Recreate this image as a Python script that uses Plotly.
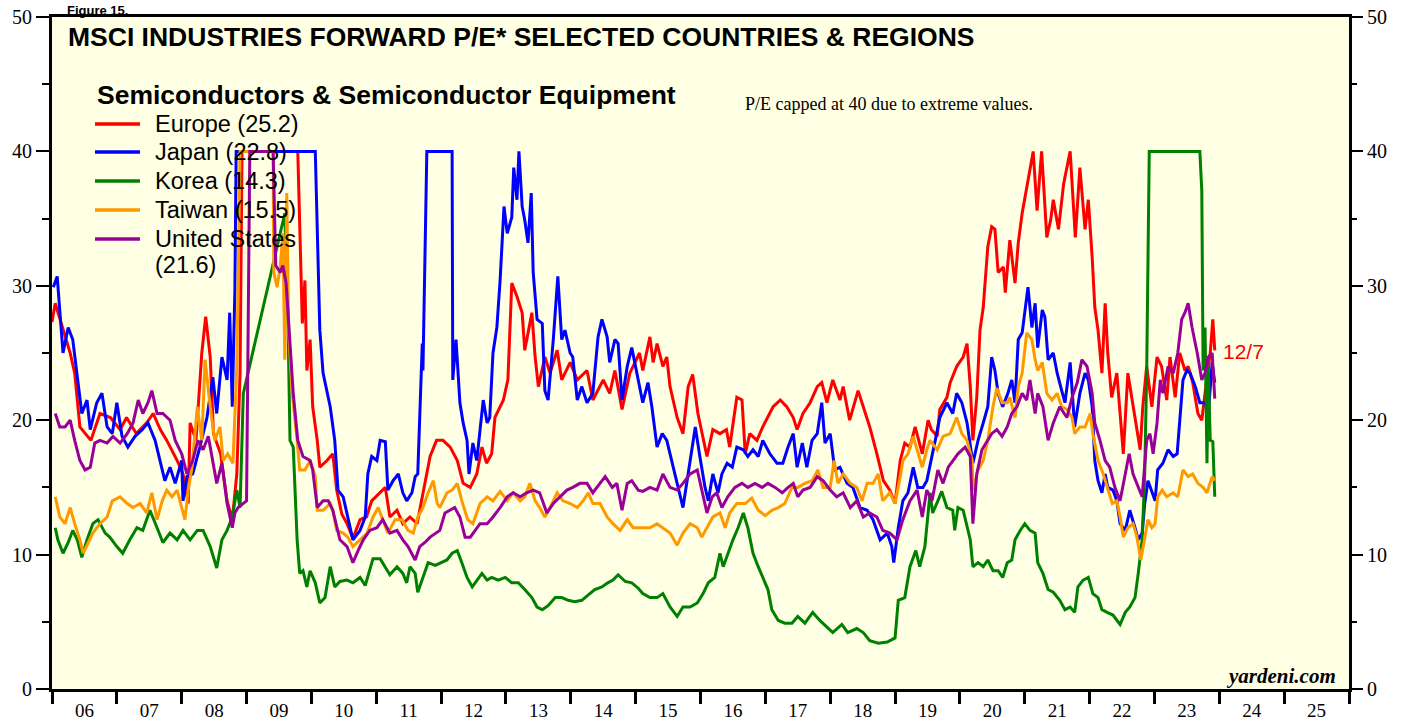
import plotly.graph_objects as go

# ---------------- data (decimal year, forward P/E; capped at 40) ----------------
year_labels = ["06", "07", "08", "09", "10", "11", "12", "13", "14", "15",
               "16", "17", "18", "19", "20", "21", "22", "23", "24", "25"]

europe = [(2006.0,27.3),(2006.05,28.7),(2006.28,25),(2006.35,23.5),(2006.43,19.5),(2006.6,18.5),(2006.74,20.5),(2006.9,20.2),
(2007.05,19.3),(2007.15,20.2),(2007.3,19),(2007.46,19.8),(2007.56,20.5),(2007.67,19.3),(2007.77,18.5),(2007.93,17),
(2008.02,16),(2008.1,13.8),(2008.13,19.8),(2008.22,18.5),(2008.31,25),(2008.37,27.7),(2008.44,24.7),(2008.49,19),(2008.6,17.5),
(2008.7,14),(2008.78,12.6),(2008.85,16),(2008.9,23.5),(2008.93,40),(2009.79,40),(2009.86,27.2),(2009.9,30.4),(2009.93,23.7),
(2009.98,26),(2010.02,21),(2010.09,18.5),(2010.13,16.5),(2010.24,17),(2010.33,17.5),(2010.39,14.8),(2010.47,13),(2010.55,12.3),
(2010.64,11.2),(2010.75,12.6),(2010.85,12.8),(2010.93,14),(2011.06,14.6),(2011.14,15),(2011.21,12.8),(2011.32,13.3),(2011.41,12.3),
(2011.52,12.8),(2011.63,12.3),(2011.72,14.6),(2011.83,17.3),(2011.93,18.5),(2012.03,18.5),(2012.14,18),(2012.25,17),(2012.34,15.3),
(2012.45,15),(2012.55,16),(2012.63,18),(2012.7,16.8),(2012.78,17.5),(2012.83,20.2),(2012.96,21.5),(2013.03,23),(2013.09,30.2),
(2013.17,29.2),(2013.25,28),(2013.29,25.2),(2013.4,28),(2013.45,24.7),(2013.5,22.5),(2013.6,24.7),(2013.68,23.5),(2013.79,25.2),
(2013.86,23),(2013.99,24.3),(2014.1,23),(2014.25,23.7),(2014.34,21.5),(2014.5,23),(2014.6,22),(2014.68,23.7),(2014.79,20.8),
(2014.91,23.5),(2015.06,25),(2015.11,23.7),(2015.22,26.2),(2015.27,24.3),(2015.33,25.7),(2015.42,24),(2015.48,24.7),(2015.53,22.5),
(2015.64,20.2),(2015.73,19),(2015.81,22.5),(2015.88,23.4),(2015.96,20.5),(2016.1,17.3),(2016.19,19.3),(2016.3,19),(2016.4,19.3),
(2016.45,18),(2016.56,21.7),(2016.64,21.5),(2016.69,17.5),(2016.76,19),(2016.87,18.5),(2016.96,19.5),(2017.12,21),(2017.23,21.5),
(2017.33,21),(2017.43,20.2),(2017.49,19.3),(2017.58,20.5),(2017.69,21.3),(2017.8,22.5),(2017.87,22.8),(2017.95,21.3),(2018.04,23),
(2018.15,21.5),(2018.2,22.5),(2018.3,20),(2018.43,22.2),(2018.51,21),(2018.61,19.5),(2018.72,17.5),(2018.82,15.5),(2018.92,14.8),
(2019.0,13.8),(2019.08,17),(2019.15,18.3),(2019.23,18),(2019.31,19.5),(2019.42,17.5),(2019.51,20),(2019.56,19.3),(2019.65,18.8),
(2019.69,20.8),(2019.8,21.7),(2019.85,22.8),(2019.95,24),(2020.05,24.7),(2020.11,25.7),(2020.16,22.5),(2020.2,18.5),(2020.26,21.7),
(2020.31,26.7),(2020.36,28.4),(2020.43,32.9),(2020.49,34.4),(2020.54,34.2),(2020.59,31),(2020.67,31.4),(2020.7,29.5),(2020.77,33.4),
(2020.85,30.2),(2020.9,33.2),(2020.96,35.4),(2021.04,37.6),(2021.08,38.8),(2021.13,40),(2021.19,35.6),(2021.26,40),(2021.34,33.6),
(2021.4,34.9),(2021.44,36.4),(2021.52,34.2),(2021.6,37.6),(2021.7,40),(2021.78,33.6),(2021.85,38.8),(2021.93,34.2),(2021.98,36.4),
(2022.04,32.1),(2022.08,28.4),(2022.13,26.7),(2022.19,23.5),(2022.24,28.7),(2022.28,25),(2022.34,21.7),(2022.42,23.5),(2022.47,20.5),
(2022.52,17.5),(2022.59,23.5),(2022.67,21),(2022.73,19),(2022.78,17.8),(2022.82,21),(2022.88,24),(2022.96,21),(2023.04,24.7),
(2023.11,24),(2023.19,21.5),(2023.24,24.7),(2023.32,21.7),(2023.39,25),(2023.47,23.7),(2023.52,24),(2023.59,22.8),(2023.67,20.5),
(2023.73,20),(2023.78,22),(2023.86,25),(2023.9,27.5),(2023.93,25.2)]

japan = [(2006.02,29.9),(2006.08,30.7),(2006.17,25),(2006.25,26.9),(2006.32,26),(2006.4,23),(2006.46,20.5),(2006.54,21.5),(2006.59,19.3),
(2006.69,21.3),(2006.77,22),(2006.85,19.5),(2006.93,19),(2007.0,21.3),(2007.08,18.8),(2007.17,18),(2007.28,18.8),(2007.39,19.3),
(2007.48,19.8),(2007.59,18.5),(2007.67,17),(2007.74,15.5),(2007.82,16.5),(2007.9,15.3),(2008.0,17),(2008.02,14),(2008.08,15.8),
(2008.17,16),(2008.28,18),(2008.39,20.2),(2008.48,23.2),(2008.54,20.5),(2008.62,24.7),(2008.7,23),(2008.74,28),(2008.78,21),
(2008.82,29.7),(2008.84,40),(2010.06,40),(2010.09,33.4),(2010.13,26.7),(2010.18,23.5),(2010.24,22),(2010.29,21),(2010.36,18.5),
(2010.41,14.8),(2010.49,14.3),(2010.56,12.8),(2010.64,11.1),(2010.75,11.8),(2010.83,12.8),(2010.87,16),(2010.93,17.3),(2011.01,17),
(2011.06,18.5),(2011.14,18.4),(2011.18,14.8),(2011.26,15.5),(2011.34,16),(2011.41,14.6),(2011.47,14),(2011.55,14.6),(2011.6,15.8),
(2011.64,16),(2011.71,25.7),(2011.72,23.7),(2011.78,40),(2012.17,40),(2012.18,23),(2012.23,26),(2012.29,21.3),(2012.34,19.8),
(2012.4,18.5),(2012.43,16),(2012.49,18.3),(2012.55,17),(2012.6,19.5),(2012.65,21.5),(2012.71,19.8),(2012.75,20.2),(2012.8,25),
(2012.86,26.9),(2012.91,30.4),(2012.97,35.9),(2013.02,33.9),(2013.09,35.1),(2013.12,38.8),(2013.17,36.4),(2013.2,40),(2013.25,35.9),
(2013.29,34.9),(2013.34,33.2),(2013.39,36.9),(2013.42,31),(2013.48,27.5),(2013.56,27.2),(2013.6,22.2),(2013.65,21.5),(2013.73,26),
(2013.8,30.7),(2013.86,26),(2013.91,26.7),(2013.99,25),(2014.03,24.7),(2014.1,21.5),(2014.17,22.5),(2014.25,21.3),(2014.34,22),
(2014.42,26.2),(2014.48,27.5),(2014.56,26.2),(2014.6,24.3),(2014.68,26),(2014.73,25.7),(2014.79,21.5),(2014.87,24),(2014.94,25.4),
(2015.04,23),(2015.11,21.3),(2015.19,22.8),(2015.25,21),(2015.33,18),(2015.41,19),(2015.48,18.5),(2015.56,17),(2015.64,15.3),
(2015.73,13.5),(2015.79,15.5),(2015.87,17.8),(2015.92,19.5),(2015.99,17.3),(2016.07,15),(2016.12,14),(2016.19,16),(2016.27,14.6),
(2016.33,16),(2016.41,16.8),(2016.49,16.5),(2016.56,18),(2016.66,17.8),(2016.73,17.3),(2016.81,17.8),(2016.89,17.3),(2016.96,18.5),
(2017.07,17.5),(2017.18,16.8),(2017.27,16.8),(2017.35,18),(2017.43,19),(2017.49,16.5),(2017.57,18.3),(2017.64,16.5),(2017.72,18.5),
(2017.8,19),(2017.87,21.3),(2017.92,18.3),(2018.0,19),(2018.07,16.3),(2018.15,16.5),(2018.26,15.3),(2018.35,15),(2018.46,13.5),
(2018.57,13.3),(2018.66,12.6),(2018.77,11.1),(2018.88,11.6),(2018.95,10.6),(2018.98,9.4),(2019.05,12),(2019.12,14),(2019.2,14.6),
(2019.28,16.5),(2019.35,15),(2019.43,15),(2019.49,15.5),(2019.55,17),(2019.62,18.5),(2019.69,20.2),(2019.8,21.3),(2019.89,20.5),
(2019.95,22),(2020.03,21.3),(2020.11,19.8),(2020.2,16.8),(2020.28,18.5),(2020.36,19.8),(2020.43,21),(2020.49,24.7),(2020.54,23.7),
(2020.59,22),(2020.66,21),(2020.74,22),(2020.8,23),(2020.85,21.3),(2020.9,26),(2020.96,26.5),(2021.0,28),(2021.05,29.9),
(2021.11,26.9),(2021.16,28.7),(2021.2,25.4),(2021.27,28.2),(2021.31,27.7),(2021.36,24.5),(2021.44,25),(2021.5,23.5),(2021.57,22.2),
(2021.62,21.3),(2021.7,24.3),(2021.77,19.5),(2021.85,22),(2021.93,23.5),(2021.98,23),(2022.04,21),(2022.08,17),(2022.13,15.5),
(2022.19,14.6),(2022.24,16),(2022.28,15),(2022.36,14.8),(2022.42,14),(2022.47,12.3),(2022.55,11.8),(2022.62,13.3),(2022.7,12),
(2022.75,11.1),(2022.81,11.6),(2022.85,13.8),(2022.9,15.5),(2022.96,14.6),(2023.01,14),(2023.05,16.3),(2023.13,16.8),(2023.21,17.8),
(2023.29,17.3),(2023.35,17.5),(2023.39,20.2),(2023.44,23),(2023.5,23.7),(2023.55,23.5),(2023.63,22.5),(2023.7,21.3),(2023.78,21.3),
(2023.83,20.5),(2023.89,24.3),(2023.93,22.8)]

korea = [(2006.05,12),(2006.09,11.1),(2006.17,10.1),(2006.25,10.9),(2006.32,11.8),(2006.39,11.1),(2006.46,9.8),(2006.54,11.1),
(2006.63,12.3),(2006.71,12.6),(2006.82,11.6),(2006.89,11.3),(2007.0,10.6),(2007.09,10.1),(2007.2,11.1),(2007.31,12),(2007.4,11.8),
(2007.51,13.3),(2007.62,12),(2007.71,10.9),(2007.82,11.6),(2007.93,11.1),(2008.02,11.8),(2008.13,11.1),(2008.24,11.8),(2008.33,11.8),
(2008.44,10.6),(2008.54,9.0),(2008.62,11.1),(2008.7,11.8),(2008.78,12.8),(2008.85,14.8),(2008.9,13.5),(2008.95,22),(2009.59,35.4),
(2009.64,27),(2009.67,18.5),(2009.72,18),(2009.78,11.1),(2009.82,8.6),(2009.87,8.8),(2009.93,7.6),(2009.98,8.8),(2010.06,7.9),
(2010.13,6.4),(2010.21,6.8),(2010.29,9.1),(2010.36,7.6),(2010.44,8.0),(2010.55,8.1),(2010.64,7.9),(2010.75,8.3),(2010.83,7.7),
(2010.9,8.8),(2010.95,9.7),(2011.06,9.7),(2011.17,8.8),(2011.21,8.5),(2011.32,9.1),(2011.41,8.6),(2011.47,7.9),(2011.52,9.1),
(2011.6,8.6),(2011.64,7.2),(2011.72,8.3),(2011.8,9.4),(2011.91,9.2),(2012.01,9.4),(2012.09,9.6),(2012.17,10.1),(2012.25,10.3),
(2012.32,9.4),(2012.4,8.3),(2012.48,7.6),(2012.55,8.1),(2012.63,8.6),(2012.71,8.1),(2012.78,8.3),(2012.88,8.1),(2012.99,8.3),
(2013.09,7.9),(2013.19,7.9),(2013.29,7.4),(2013.4,6.8),(2013.48,6.1),(2013.56,5.9),(2013.65,6.2),(2013.76,6.8),(2013.86,6.8),
(2013.96,6.6),(2014.06,6.5),(2014.17,6.6),(2014.27,7.0),(2014.37,7.4),(2014.48,7.6),(2014.57,7.9),(2014.65,8.1),(2014.73,8.5),
(2014.84,8.0),(2014.94,7.9),(2015.04,7.5),(2015.11,7.1),(2015.22,6.8),(2015.33,6.8),(2015.42,7.1),(2015.53,6.1),(2015.64,5.4),
(2015.73,6.1),(2015.84,6.1),(2015.95,6.4),(2016.04,7.1),(2016.12,7.9),(2016.22,8.3),(2016.3,10.1),(2016.35,9.1),(2016.42,10.1),
(2016.5,11.1),(2016.58,12),(2016.66,13.1),(2016.73,12),(2016.81,10.1),(2016.89,9.1),(2016.96,8.3),(2017.04,7.4),(2017.1,5.9),
(2017.2,5.1),(2017.3,4.9),(2017.41,4.9),(2017.5,5.4),(2017.61,4.9),(2017.73,5.7),(2017.84,5.1),(2017.95,4.6),(2018.04,4.2),
(2018.18,4.8),(2018.27,4.2),(2018.41,4.5),(2018.51,4.2),(2018.61,3.6),(2018.74,3.4),(2018.88,3.5),(2019.0,3.8),(2019.05,6.6),
(2019.15,6.8),(2019.23,9.1),(2019.32,10.3),(2019.38,9.1),(2019.46,10.6),(2019.54,14.6),(2019.58,13.1),(2019.66,14),(2019.72,14.7),
(2019.8,13.5),(2019.89,13.3),(2019.92,11.8),(2019.97,13.5),(2020.05,13.3),(2020.11,12),(2020.16,11.1),(2020.2,9.1),(2020.28,9.4),
(2020.36,9.1),(2020.43,9.6),(2020.51,8.8),(2020.59,8.8),(2020.66,8.3),(2020.73,9.4),(2020.8,9.6),(2020.85,11.1),(2020.93,11.8),
(2021.0,12.3),(2021.08,11.8),(2021.16,11.6),(2021.2,9.4),(2021.28,8.6),(2021.36,7.4),(2021.44,7.2),(2021.54,6.6),(2021.62,5.9),
(2021.7,6.1),(2021.77,5.7),(2021.82,7.6),(2021.9,8.1),(2021.98,8.3),(2022.05,7.1),(2022.13,6.8),(2022.19,5.9),(2022.27,5.7),
(2022.36,5.5),(2022.47,4.8),(2022.55,5.7),(2022.62,6.1),(2022.7,6.8),(2022.75,8.6),(2022.81,11.1),(2022.85,16),(2022.88,23.5),
(2022.92,40),(2023.7,40),(2023.73,37.1),(2023.75,23.7),(2023.78,26.9),(2023.81,16.8),(2023.83,24),(2023.86,18.5),(2023.9,18.4),
(2023.93,14.3)]

taiwan = [(2006.05,14.3),(2006.12,12.8),(2006.2,12.3),(2006.28,13.5),(2006.35,12.3),(2006.43,11.1),(2006.48,10.1),(2006.56,10.9),
(2006.63,11.6),(2006.74,12.3),(2006.85,12.8),(2006.93,14),(2007.05,14.3),(2007.16,13.8),(2007.25,13.5),(2007.36,13.8),(2007.46,13.1),
(2007.54,14.6),(2007.62,12.6),(2007.7,14),(2007.77,14.8),(2007.85,14.3),(2007.93,14.8),(2008.0,13.5),(2008.05,12.6),(2008.1,14.8),
(2008.16,16.5),(2008.24,21),(2008.31,18.5),(2008.36,24.5),(2008.44,21),(2008.51,18.5),(2008.59,19.5),(2008.64,17),(2008.71,17.5),
(2008.79,16.8),(2008.85,24),(2008.9,40),(2009.41,40),(2009.42,31),(2009.47,29.9),(2009.52,31.4),(2009.56,33.9),(2009.59,24.5),
(2009.62,36.9),(2009.65,26.7),(2009.7,22.2),(2009.78,18.5),(2009.82,16.3),(2009.9,16.3),(2009.98,17),(2010.06,15.8),(2010.09,13.3),
(2010.18,13.3),(2010.29,13.8),(2010.33,13.3),(2010.39,11.8),(2010.49,11.6),(2010.56,11.3),(2010.64,10.6),(2010.75,11.1),(2010.86,11.6),
(2010.95,12.8),(2011.03,13.5),(2011.1,12.6),(2011.18,11.6),(2011.29,12.6),(2011.4,12.6),(2011.49,11.8),(2011.57,11.6),(2011.64,12.8),
(2011.72,13.5),(2011.8,14.6),(2011.88,15.5),(2011.94,13.8),(2011.98,13.5),(2012.09,14.6),(2012.17,14.8),(2012.25,15.3),(2012.32,14),
(2012.41,12.6),(2012.49,12.3),(2012.6,13.8),(2012.71,14.3),(2012.8,14),(2012.91,14.7),(2013.02,14),(2013.11,14.6),(2013.22,14),
(2013.29,14.3),(2013.37,15.3),(2013.45,14),(2013.52,13.5),(2013.6,12.8),(2013.68,13.5),(2013.79,14.6),(2013.88,14),(2013.99,13.8),
(2014.1,13.5),(2014.19,14),(2014.27,14.6),(2014.34,13.8),(2014.45,13.8),(2014.56,12.8),(2014.65,12.3),(2014.76,11.8),(2014.87,12.6),
(2014.96,12),(2015.07,12),(2015.22,12),(2015.33,12.3),(2015.42,12),(2015.53,11.6),(2015.64,10.7),(2015.73,11.6),(2015.84,12.3),
(2015.95,12),(2016.02,11.3),(2016.1,12),(2016.19,12.8),(2016.3,13.1),(2016.38,12),(2016.45,13.1),(2016.56,13.8),(2016.69,13.8),
(2016.79,14.2),(2016.89,13.3),(2017.0,12.9),(2017.1,13.3),(2017.2,13.5),(2017.3,13.8),(2017.41,15),(2017.5,15),(2017.61,15.3),
(2017.72,15.5),(2017.81,16.3),(2017.89,15),(2018.0,15),(2018.06,17),(2018.12,15.3),(2018.2,16),(2018.31,15.3),(2018.41,15),
(2018.49,14),(2018.57,15.3),(2018.66,15.3),(2018.74,16),(2018.81,14),(2018.92,14.6),(2019.0,13.8),(2019.08,15.8),(2019.12,17),
(2019.2,17.5),(2019.28,18.8),(2019.34,17.8),(2019.42,16.5),(2019.49,17.8),(2019.54,18.5),(2019.65,17.8),(2019.74,18.8),(2019.85,19),
(2019.95,20.2),(2020.03,19),(2020.11,18.5),(2020.19,17),(2020.2,14.8),(2020.28,16.3),(2020.36,17),(2020.43,18.5),(2020.51,21),
(2020.57,22.4),(2020.65,21.3),(2020.73,21.3),(2020.77,21.7),(2020.85,20.2),(2020.9,22.5),(2020.96,23.5),(2021.0,25),(2021.03,26.5),
(2021.11,26),(2021.16,24.5),(2021.2,23.7),(2021.27,24.3),(2021.34,22),(2021.42,21.5),(2021.5,22),(2021.57,21),(2021.65,20.8),
(2021.73,20.2),(2021.77,19),(2021.85,19.5),(2021.93,19.5),(2022.01,20.5),(2022.05,19),(2022.13,17),(2022.21,16),(2022.28,14.8),
(2022.35,13.8),(2022.42,14),(2022.47,12.8),(2022.52,11.3),(2022.59,12),(2022.67,12.3),(2022.73,11.3),(2022.79,9.6),(2022.85,11.1),
(2022.9,12.6),(2022.96,12),(2023.01,12.3),(2023.05,14.3),(2023.12,14.8),(2023.19,14.3),(2023.29,14.6),(2023.36,14.3),(2023.44,16.3),
(2023.52,15.8),(2023.59,16),(2023.67,15.3),(2023.75,15),(2023.81,14.6),(2023.89,15.8),(2023.93,15.5)]

united_states = [(2006.05,20.5),(2006.12,19.5),(2006.2,19.5),(2006.28,20),(2006.35,18.5),(2006.43,17),(2006.51,16.3),(2006.59,16.5),
(2006.66,18.3),(2006.74,18.5),(2006.85,18.3),(2006.94,18.8),(2007.05,18.3),(2007.16,19),(2007.25,19.8),(2007.33,21.5),(2007.4,20.5),
(2007.48,21.3),(2007.54,22.2),(2007.62,20.5),(2007.71,20.5),(2007.82,20),(2007.9,18.5),(2008.0,17.5),(2008.08,16),(2008.17,17),
(2008.25,18.5),(2008.33,17.8),(2008.41,18.8),(2008.48,16.8),(2008.54,15.3),(2008.62,16.8),(2008.7,13.8),(2008.78,12),(2008.82,13.1),
(2008.87,13.5),(2009.0,14),(2009.05,40),(2009.41,40),(2009.45,31.5),(2009.52,31),(2009.56,31.5),(2009.61,30.2),(2009.72,22),
(2009.79,18.5),(2009.87,17.3),(2009.98,17),(2010.02,16.3),(2010.09,13.5),(2010.18,14),(2010.26,14),(2010.33,13.3),(2010.44,11.1),
(2010.55,10.6),(2010.64,9.4),(2010.72,10.3),(2010.8,11.1),(2010.9,11.8),(2011.01,12),(2011.1,12.6),(2011.21,11.6),(2011.32,11.8),
(2011.41,11.1),(2011.49,10.6),(2011.6,9.6),(2011.67,10.6),(2011.75,10.9),(2011.83,11.3),(2011.91,11.6),(2011.98,11.8),(2012.06,13.1),
(2012.14,13.3),(2012.21,13.5),(2012.29,12.8),(2012.37,11.3),(2012.45,11.3),(2012.52,11.8),(2012.6,12.3),(2012.71,12.3),(2012.8,12.8),
(2012.91,13.5),(2013.02,14.3),(2013.11,14.6),(2013.22,14.3),(2013.32,14.6),(2013.42,14.8),(2013.52,14.6),(2013.63,13.1),(2013.73,13.8),
(2013.83,14.3),(2013.94,14.8),(2014.03,15),(2014.14,15.3),(2014.25,15.3),(2014.34,14.6),(2014.45,15.3),(2014.53,15.8),(2014.64,15),
(2014.71,15.3),(2014.79,13.3),(2014.87,15.3),(2014.94,15.5),(2015.04,14.8),(2015.11,14.7),(2015.22,15),(2015.33,14.8),(2015.42,16),
(2015.53,15),(2015.64,14.8),(2015.73,15.3),(2015.84,16),(2015.95,16.3),(2016.02,14.8),(2016.1,13.1),(2016.18,14.3),(2016.25,14.6),
(2016.33,13.5),(2016.42,14.3),(2016.53,15),(2016.64,15.3),(2016.73,15),(2016.84,15.3),(2016.95,15),(2017.04,15.3),(2017.15,15),
(2017.26,14.6),(2017.35,15),(2017.43,15.3),(2017.5,14.3),(2017.58,14.8),(2017.69,15),(2017.8,15.8),(2017.89,15.5),(2018.0,14.8),
(2018.1,14.3),(2018.2,14.6),(2018.31,13.5),(2018.41,14),(2018.51,12.8),(2018.61,13.1),(2018.72,12.8),(2018.81,11.8),(2018.92,11.6),
(2019.03,11.1),(2019.12,12.6),(2019.23,14),(2019.34,14.8),(2019.42,12.8),(2019.49,14.8),(2019.57,14),(2019.66,16.3),(2019.74,15.3),
(2019.82,16.5),(2019.89,17),(2019.97,17.5),(2020.08,18),(2020.16,17.3),(2020.2,12.3),(2020.26,16),(2020.34,17.8),(2020.42,18.5),
(2020.49,19),(2020.57,19.3),(2020.65,18.8),(2020.73,19.5),(2020.8,20.5),(2020.88,21),(2020.96,22),(2021.03,21.5),(2021.08,23),
(2021.16,20.5),(2021.2,22),(2021.28,21),(2021.36,18.5),(2021.44,19.8),(2021.54,21),(2021.65,20.2),(2021.73,21.7),(2021.81,22.8),
(2021.88,24.5),(2021.96,24),(2022.04,22),(2022.08,19.8),(2022.16,18.5),(2022.24,17),(2022.31,16.5),(2022.39,15),(2022.47,14),
(2022.55,16),(2022.61,17.5),(2022.67,16),(2022.75,15),(2022.81,14.3),(2022.88,18.5),(2022.93,19),(2022.98,17.5),(2023.04,19.8),
(2023.09,23),(2023.13,22),(2023.21,24),(2023.29,23.5),(2023.36,25),(2023.42,27.5),(2023.47,28),(2023.52,28.7),(2023.58,26.9),
(2023.66,25),(2023.73,23),(2023.78,23.5),(2023.83,24.7),(2023.89,25),(2023.93,21.6)]

series_names = ["Europe (25.2)", "Japan (22.8)", "Korea (14.3)", "Taiwan (15.5)", "United States"]
series_data = [europe, japan, korea, taiwan, united_states]
series_colors = ["#FF0000", "#0000FF", "#008000", "#FF9900", "#990099"]

# ---------------- figure ----------------
W, H = 1407, 721
L, R, T, B = 52, 58, 17, 32
pw, ph = W - L - R, H - T - B

def px(x):  # pixel -> paper x
    return (x - L) / pw

def py(y):  # pixel -> paper y
    return (H - B - y) / ph

fig = go.Figure()
for i, (name, data, col) in enumerate(zip(series_names, series_data, series_colors)):
    xs = [p[0] for p in data]
    ys = [p[1] for p in data]
    fig.add_trace(go.Scatter(
        x=xs, y=ys, mode="lines", name=name,
        line=dict(color=col, width=3),
        showlegend=False, hoverinfo="skip",
        yaxis="y2" if i == len(series_names) - 1 else "y",
    ))

serif = "Liberation Serif, Times New Roman, serif"
sans = "Liberation Sans, Arial, sans-serif"

fig.update_layout(
    width=W, height=H,
    margin=dict(l=L, r=R, t=T, b=B, pad=0, autoexpand=False),
    paper_bgcolor="white",
    plot_bgcolor="#FFFFE3",
    xaxis=dict(
        range=[2006, 2026], showgrid=False, zeroline=False, automargin=False,
        showline=True, linecolor="black", linewidth=3, mirror=True,
        tickmode="array",
        tickvals=[2006.5 + i for i in range(len(year_labels))],
        ticktext=year_labels,
        ticks="outside", ticklen=2, tickcolor="rgba(0,0,0,0)",
        tickfont=dict(family=serif, size=19, color="black"),
        minor=dict(tickmode="array", tickvals=list(range(2006, 2027)),
                   ticks="outside", ticklen=12, tickwidth=2.5, tickcolor="black",
                   showgrid=False),
    ),
    yaxis=dict(
        range=[0, 50], showgrid=False, zeroline=False, automargin=False,
        showline=True, linecolor="black", linewidth=3, mirror=True,
        tickmode="linear", tick0=0, dtick=10,
        ticks="outside", ticklen=13, tickwidth=1.5, tickcolor="black",
        tickfont=dict(family=serif, size=20, color="black"),
        minor=dict(dtick=5, ticks="outside", ticklen=7, tickwidth=1.5,
                   tickcolor="black", showgrid=False),
    ),
    yaxis2=dict(
        range=[0, 50], overlaying="y", side="right", matches="y", automargin=False,
        showgrid=False, zeroline=False, showline=False,
        tickmode="linear", tick0=0, dtick=10,
        ticks="outside", ticklen=13, tickwidth=1.5, tickcolor="black",
        tickfont=dict(family=serif, size=20, color="black"),
        minor=dict(dtick=5, ticks="outside", ticklen=7, tickwidth=1.5,
                   tickcolor="black", showgrid=False),
    ),
)

ann = []
ann.append(dict(text="<b>Figure 15.</b>", x=px(65), y=py(1), xref="paper", yref="paper",
                xanchor="left", yanchor="top", showarrow=False,
                font=dict(family=sans, size=13, color="black")))
ann.append(dict(text="<b>MSCI INDUSTRIES FORWARD P/E* SELECTED COUNTRIES & REGIONS</b>",
                x=px(66), y=py(37), xref="paper", yref="paper", xanchor="left", yanchor="middle",
                showarrow=False, font=dict(family=sans, size=26.5, color="black")))
ann.append(dict(text="<b>Semiconductors & Semiconductor Equipment</b>",
                x=px(95), y=py(95), xref="paper", yref="paper", xanchor="left", yanchor="middle",
                showarrow=False, font=dict(family=sans, size=26.5, color="black")))
ann.append(dict(text="P/E capped at 40 due to extreme values.",
                x=px(743), y=py(104), xref="paper", yref="paper", xanchor="left", yanchor="middle",
                showarrow=False, font=dict(family=serif, size=18, color="black")))
ann.append(dict(text="12/7", x=px(1221), y=py(351), xref="paper", yref="paper",
                xanchor="left", yanchor="middle", showarrow=False,
                font=dict(family=sans, size=21, color="#FF0000")))
ann.append(dict(text="<b><i>yardeni.com</i></b>", x=px(1338), y=py(676), xref="paper", yref="paper",
                xanchor="right", yanchor="middle", showarrow=False,
                font=dict(family=serif, size=21, color="black")))

legend_rows = [124, 152, 181, 210, 239]
shapes = []
for name, col, yy in zip(series_names, series_colors, legend_rows):
    shapes.append(dict(type="line", xref="paper", yref="paper",
                       x0=px(95), x1=px(140), y0=py(yy), y1=py(yy),
                       line=dict(color=col, width=3.5)))
    ann.append(dict(text=name, x=px(153), y=py(yy), xref="paper", yref="paper",
                    xanchor="left", yanchor="middle", showarrow=False,
                    font=dict(family=sans, size=23.5, color="black")))
ann.append(dict(text="(21.6)", x=px(153), y=py(265), xref="paper", yref="paper",
                xanchor="left", yanchor="middle", showarrow=False,
                font=dict(family=sans, size=23.5, color="black")))

fig.update_layout(annotations=ann, shapes=shapes)
# remove the browser's default 8px page margin so the figure fills the window exactly
fig.write_html("out.html",
               config={"displayModeBar": False},
               post_script="document.body.style.margin='0px';document.body.style.overflow='hidden';")
